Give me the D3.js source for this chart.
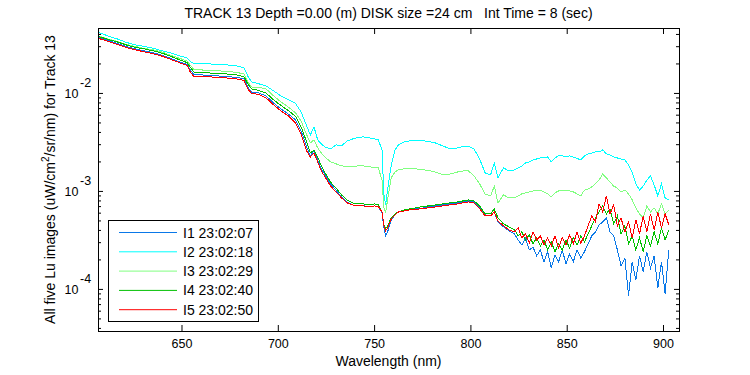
<!DOCTYPE html>
<html>
<head>
<meta charset="utf-8">
<script src="https://cdn.jsdelivr.net/npm/d3@7"></script>
<style>
  body { margin: 0; background: #fff; }
  text { font-family: "Liberation Sans", Arial, sans-serif; fill: #000; }
  .tick text, .ylab { font-family: "Liberation Sans Narrow", "Liberation Sans", Arial, sans-serif; font-size: 12.5px; }
</style>
</head>
<body>
<div id="chart"></div>
<script>
// wavelengths (nm)
var wavelength = [607.0,611.8,616.6,621.3,626.1,630.9,635.7,640.4,645.2,650.0,
  652.9,654.8,656.7,659.6, 664.3,669.1,673.9,678.7,
  682.5,684.4,686.3,690.1,693.9,697.8,701.6,705.4,709.2,712.1,
  715.0,716.9,718.8,720.7,722.6,724.5,
  727.4,730.2,733.1,736.0,738.8,741.7,744.6,747.4,750.3,752.2,754.1,
  755.1,756.0,757.0,758.9,760.8,762.7,
  765.6,768.5,771.3,774.2,778.0,781.8,785.7,789.5,793.3,
  796.2,799.0,801.9,804.8,807.6,810.5,812.4,814.3,817.2,820.0,
  822.9,824.8,826.7,828.6,830.6,832.5,834.4,836.3,838.2,840.1,
  842.0,843.9,845.8,847.7,849.6,851.5,853.4,855.4,857.3,859.2,
  861.1,863.0,864.9,866.8,868.7,870.6,872.5,874.4,876.3,878.2,
  880.2,882.1,884.0,885.9,887.8,889.7,891.6,893.5,895.4,897.3,
  899.2,901.1,903.0];

// Lu values in units of 1e-4 uW/cm^2/sr/nm
var luI1 = [369,344,320,298,281,268,256,241,222,204,
  195,168,153,153, 151,149,147,144,
  139,115,102,100,93.3,79.1,68.7,61.1,53.1,41.0,
  28.1,22.8,25.6,20.7,16.8,14.6,
  11.8,10.2,8.69,7.73,7.20,7.03,7.03,6.95,7.03,6.95,5.97,
  4.20,3.48,3.82,5.06,5.69,6.11,
  6.25,6.40,6.56,6.63,6.87,7.03,7.20,7.37,7.55,
  7.73,7.91,7.73,6.71,5.69,5.56,6.11,4.83,4.30,3.91,
  3.64,3.16,2.81,3.32,2.50,2.68,2.17,2.50,1.89,2.39,
  1.64,2.22,1.89,2.50,1.80,2.28,1.89,2.50,2.07,2.39,
  2.88,3.48,3.82,4.50,4.83,5.31,3.82,3.48,2.50,1.72,
  2.07,0.85,1.89,1.24,2.17,1.50,2.39,1.64,2.17,1.02,
  1.89,0.89,2.50];

var luI2 = [414,382,356,328,309,298,284,268,253,236,
  228,207,200,200, 198,195,193,189,
  180,149,130,124,118,105,93.3,85.9,78.2,64.0,
  46.1,37.3,45.0,33.2,30.2,28.1,
  26.8,29.5,28.8,32.4,33.9,35.2,35.6,34.8,33.9,33.2,26.2,
  9.11,7.20,10.2,18.4,26.2,29.5,
  31.6,32.4,32.8,32.8,32.0,30.9,28.8,26.8,27.5,
  28.5,28.5,26.8,21.2,15.3,14.6,19.3,13.6,17.2,16.0,
  16.4,17.2,18.0,19.3,19.8,20.7,21.2,21.7,22.0,22.2,
  19.8,21.7,22.8,22.8,22.5,22.8,22.2,21.5,20.7,22.8,
  23.9,24.4,25.0,25.0,26.2,23.9,23.3,22.2,21.7,21.2,
  20.7,18.4,15.6,11.8,10.2,11.2,12.9,14.2,11.5,8.90,
  11.8,8.49,8.10];

var luI3 = [382,356,336,312,298,284,275,259,239,222,
  212,189,172,172, 170,168,166,162,
  156,130,115,114,110,93.3,81.0,72.0,62.5,51.8,
  37.3,30.9,33.2,27.5,24.4,22.2,
  19.8,18.9,18.0,17.8,17.8,18.0,18.0,17.6,17.4,17.2,12.9,
  6.71,6.11,8.10,13.6,15.6,16.4,
  16.8,16.8,16.8,16.6,16.2,15.6,14.6,14.9,15.6,
  16.0,16.0,14.2,11.8,9.33,8.90,11.2,7.55,9.11,8.49,
  8.49,8.90,9.33,9.55,9.78,10.0,10.2,10.2,9.78,9.33,
  8.69,9.55,10.0,10.2,10.2,10.0,9.78,9.33,8.90,10.2,
  10.5,11.0,11.8,12.9,14.9,13.6,12.3,11.2,10.7,9.78,
  10.2,9.33,8.10,6.71,5.83,5.31,7.03,6.11,6.71,5.83,
  7.37,5.83,6.40];

var luI4 = [377,352,332,309,291,281,268,253,233,214,
  204,180,162,162, 160,158,156,153,
  146,124,110,106,100,84.9,74.6,66.3,57.6,45.0,
  31.6,24.4,26.2,22.2,18.0,15.3,
  12.3,10.7,9.11,8.10,7.55,7.37,7.37,7.20,7.37,7.20,6.11,
  4.50,4.10,4.40,5.31,5.83,6.11,
  6.40,6.56,6.71,6.87,7.03,7.20,7.37,7.55,7.73,
  7.91,8.10,7.91,7.03,5.83,5.83,6.56,5.31,4.61,4.30,
  4.00,3.48,3.82,3.16,3.56,2.88,3.32,2.75,3.16,2.50,
  3.02,2.39,2.88,2.50,3.16,2.62,3.32,2.81,3.48,3.02,
  3.64,4.40,5.31,6.11,7.03,5.83,6.56,4.61,5.56,3.64,
  4.40,2.88,3.48,2.50,3.32,2.39,3.48,2.75,3.82,2.88,
  4.20,3.16,4.00];

var luI5 = [360,336,312,291,275,262,250,236,217,200,
  191,160,146,147, 146,144,142,139,
  134,110,98.9,96.5,89.0,75.5,65.6,58.3,49.4,38.2,
  25.6,22.2,24.4,19.8,16.0,13.9,
  11.2,9.78,8.49,7.55,7.20,7.03,7.03,6.87,7.03,6.95,6.11,
  4.40,3.91,4.20,5.18,5.69,6.11,
  6.25,6.40,6.48,6.56,6.71,6.87,7.03,7.20,7.37,
  7.55,7.73,7.55,6.56,5.56,5.56,6.11,4.94,4.40,4.00,
  3.82,4.20,3.32,3.64,2.95,3.82,3.16,3.48,2.81,3.32,
  2.75,3.48,2.62,3.32,2.81,3.56,2.88,3.82,2.95,3.48,
  4.40,5.56,4.83,7.37,6.11,8.90,5.83,7.20,4.40,5.31,
  3.82,4.83,3.32,5.06,3.64,5.56,3.82,5.83,4.00,6.11,
  4.20,5.83,4.50];

var seriesNames = ["I1 23:02:07", "I2 23:02:18", "I3 23:02:29", "I4 23:02:40", "I5 23:02:50"];
var seriesColors = ["#0a78e8", "#00ffff", "#80ff80", "#00c000", "#ff0000"];
var xTicks = [650, 700, 750, 800, 850, 900];
var yDecades = [1e-4, 1e-3, 1e-2];
var unit = 1e-4;

var width = 750, height = 375;
var margin = {top: 28, right: 71, bottom: 44, left: 98};

var svg = d3.select("#chart").append("svg")
    .attr("width", width)
    .attr("height", height);

var x = d3.scaleLinear().domain([606.65, 908.3]).range([margin.left, width - margin.right]);
var y = d3.scaleLog().domain([3.72e-5, 0.046]).range([height - margin.bottom, margin.top]);

svg.append("clipPath").attr("id", "plotclip")
  .append("rect")
    .attr("x", margin.left).attr("y", margin.top)
    .attr("width", width - margin.left - margin.right)
    .attr("height", height - margin.top - margin.bottom);

var allSeries = [luI1, luI2, luI3, luI4, luI5].map(function(vals, i) {
  return {
    name: seriesNames[i],
    color: seriesColors[i],
    points: wavelength.map(function(w, j) { return {w: w, v: vals[j] * unit}; })
  };
});

var line = d3.line()
    .x(function(d) { return x(d.w); })
    .y(function(d) { return y(d.v); });

svg.append("g").attr("clip-path", "url(#plotclip)")
  .selectAll("path")
  .data(allSeries)
  .enter().append("path")
    .attr("d", function(d) { return line(d.points); })
    .attr("fill", "none")
    .attr("stroke", function(d) { return d.color; })
    .attr("stroke-width", 1)
    .style("shape-rendering", "crispEdges");

// axes, ticks pointing inward
var bottom = height - margin.bottom, right = width - margin.right;

svg.append("g")
    .attr("transform", "translate(0," + bottom + ")")
    .call(d3.axisBottom(x).tickValues(xTicks).tickSize(-6).tickPadding(8).tickFormat(d3.format("d")));
svg.append("g")
    .attr("transform", "translate(0," + margin.top + ")")
    .call(d3.axisTop(x).tickValues(xTicks).tickSize(-6).tickFormat(""));

var minor = y.ticks().filter(function(v) { return yDecades.indexOf(v) < 0; });
[[d3.axisLeft, margin.left], [d3.axisRight, right]].forEach(function(a) {
  svg.append("g").attr("transform", "translate(" + a[1] + ",0)")
      .call(a[0](y).tickValues(minor).tickSize(-3).tickFormat(""));
  svg.append("g").attr("transform", "translate(" + a[1] + ",0)")
      .call(a[0](y).tickValues(yDecades).tickSize(-5).tickFormat(""));
});

svg.selectAll(".domain").remove();
svg.selectAll(".tick line").attr("stroke", "#000");

svg.append("rect")
    .attr("x", margin.left + 0.5).attr("y", margin.top + 0.5)
    .attr("width", right - margin.left).attr("height", bottom - margin.top)
    .attr("fill", "none").attr("stroke", "#000");

// 10^n labels
var ylab = svg.selectAll(".ylab").data(yDecades).enter().append("g").attr("class", "ylab");
ylab.append("text")
    .attr("x", 78.5).attr("y", function(d) { return y(d) + 5; })
    .attr("text-anchor", "end")
    .text("10");
ylab.append("text")
    .attr("x", 80).attr("y", function(d) { return y(d) - 6; })
    .text(function(d) { return "-" + Math.round(-Math.log10(d)); });

// titles
svg.append("text")
    .attr("x", (margin.left + right) / 2).attr("y", 18)
    .attr("text-anchor", "middle")
    .style("font-size", "14px")
    .style("white-space", "pre")
    .text("TRACK 13 Depth =0.00 (m) DISK size =24 cm   Int Time = 8 (sec)");

svg.append("text")
    .attr("x", (margin.left + right) / 2).attr("y", 366)
    .attr("text-anchor", "middle")
    .style("font-size", "14px")
    .text("Wavelength (nm)");

var yt = svg.append("text")
    .attr("transform", "translate(55," + (margin.top + bottom) / 2 + ") rotate(-90)")
    .attr("text-anchor", "middle")
    .style("font-size", "14px");
yt.append("tspan").text("All five Lu images (uW/cm");
yt.append("tspan").attr("dy", -6).style("font-size", "10px").text("2");
yt.append("tspan").attr("dy", 6).text("/sr/nm) for Track 13");

// legend
var lg = svg.append("g");
lg.append("rect")
    .attr("x", 108.5).attr("y", 220.5).attr("width", 150).attr("height", 101)
    .attr("fill", "#fff").attr("stroke", "#000");
var item = lg.selectAll(".item").data(allSeries).enter().append("g")
    .attr("transform", function(d, i) { return "translate(0," + (232 + i * 19.3) + ")"; });
item.append("line")
    .attr("x1", 119).attr("x2", 177).attr("y1", 0.5).attr("y2", 0.5)
    .attr("stroke", function(d) { return d.color; });
item.append("text")
    .attr("x", 183).attr("y", 5.5)
    .style("font-size", "14px")
    .text(function(d) { return d.name; });
</script>
</body>
</html>
